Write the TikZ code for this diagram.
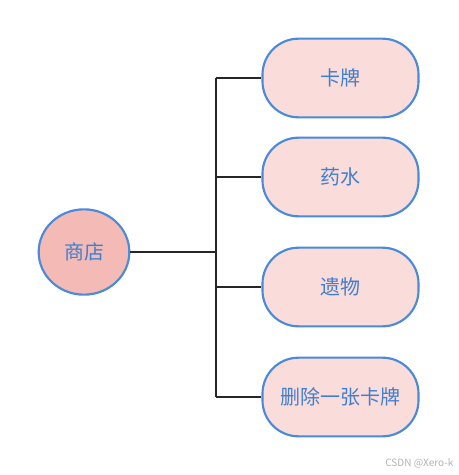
\documentclass[tikz,border=0pt]{standalone}
\usepackage{fontspec}
\setmainfont{Noto Sans CJK SC}
\usepackage{tikz}
\usetikzlibrary{shapes}

\definecolor{itemblue}{HTML}{4A8AD8}
\definecolor{itemtext}{HTML}{3F7FCF}
\definecolor{shopfill}{HTML}{F4BAB6}
\definecolor{itemfill}{HTML}{FADCDA}

\tikzset{
    item/.style={draw=itemblue, line width=1.6pt, fill=itemfill, rounded corners=27pt,
        minimum width=117pt, minimum height=59pt, text=itemtext, font=\fontsize{15}{17}\selectfont},
    shop/.style={draw=itemblue, line width=1.6pt, fill=shopfill, ellipse, inner sep=0pt,
        minimum width=68pt, minimum height=64pt, text=itemtext, font=\fontsize{15}{17}\selectfont},
    branch/.style={line width=1.5pt, black!85}
}

\begin{document}
\begin{tikzpicture}[x=0.75pt, y=-0.75pt]
    \useasboundingbox (0,0) rectangle (458,475);

    % Shop and its items
    \node[shop] (shop) at (84, 252) {商店};
    \node[item] (card) at (340.5, 78) {卡牌};
    \node[item] (potion) at (340.5, 177) {药水};
    \node[item] (relic) at (340.5, 287) {遗物};
    \node[item] (remove) at (340.5, 397) {删除一张卡牌};

    % Tree lines
    \coordinate (fork) at (216, 252);
    \draw[branch] (shop.east) -- (fork);
    \draw[branch] (fork |- card.west) -- (fork |- remove.west);
    \draw[branch] (fork |- card.west) -- (card.west);
    \draw[branch] (fork |- potion.west) -- (potion.west);
    \draw[branch] (fork |- relic.west) -- (relic.west);
    \draw[branch] (fork |- remove.west) -- (remove.west);

    % Watermark
    \node[text=black!30, font=\fontsize{7.5}{8}\selectfont, anchor=east] (mark) at (458, 463) {CSDN @Xero-k};
\end{tikzpicture}
\end{document}
